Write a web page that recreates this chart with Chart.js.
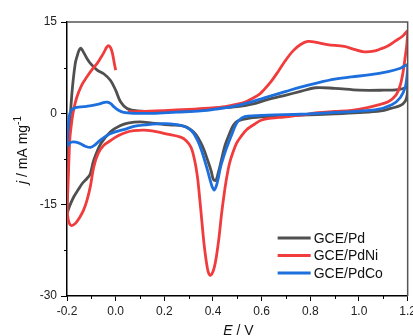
<!DOCTYPE html>
<html>
<head>
<meta charset="utf-8">
<script src="https://cdn.jsdelivr.net/npm/chart.js@4.4.0/dist/chart.umd.min.js"></script>
<style>
  html, body { margin: 0; padding: 0; overflow: hidden; background: #fff; }
</style>
</head>
<body>
<canvas id="cv" width="419" height="336"></canvas>
<script>
  // Data
  const seriesNames = ['GCE/Pd', 'GCE/PdNi', 'GCE/PdCo'];
  const xTicks = [-0.2, 0.0, 0.2, 0.4, 0.6, 0.8, 1.0, 1.2];
  const yTicks = [-30, -15, 0, 15];

  // GCE/Pd : potential (V) and current density (mA mg-1), one closed CV loop
  const pdE = [-0.2, -0.198, -0.195, -0.19, -0.184, -0.177, -0.166, -0.159, -0.15, -0.143, -0.133, -0.118, -0.104, -0.076, -0.049, -0.021, 0.0, 0.02, 0.047, 0.09, 0.2, 0.3, 0.4, 0.5, 0.56, 0.62, 0.7, 0.76, 0.82, 0.9, 1.0, 1.1, 1.16, 1.19, 1.2,
    1.198, 1.19, 1.17, 1.13, 1.09, 1.0, 0.9, 0.76, 0.62, 0.55, 0.505, 0.485, 0.468, 0.45, 0.435, 0.422, 0.412, 0.402, 0.392, 0.378, 0.362, 0.348, 0.33, 0.31, 0.28, 0.22, 0.15, 0.1, 0.05, 0.02, -0.02, -0.06, -0.09, -0.105, -0.118, -0.135, -0.155, -0.172, -0.19, -0.2];
  const pdJ = [-16.5, -12, -7, -3, 1, 4.5, 8.2, 9.3, 10.4, 10.7, 10.1, 9.0, 8.2, 7.1, 6.5, 5.4, 3.8, 1.9, 0.8, 0.38, 0.3, 0.5, 0.8, 1.1, 1.5, 2.2, 3.0, 3.6, 4.2, 4.1, 3.8, 3.8, 3.9, 4.2, 4.5,
    3.0, 2.0, 1.3, 0.8, 0.4, 0.1, -0.1, -0.3, -0.55, -0.8, -1.2, -1.9, -3.3, -5.2, -7.6, -9.7, -11.0, -10.9, -9.4, -7.7, -5.9, -4.7, -3.5, -2.7, -2.1, -1.9, -1.6, -1.4, -1.6, -2.0, -3.0, -4.9, -7.7, -10.0, -10.7, -11.4, -12.6, -13.7, -15.3, -16.5];

  // GCE/PdNi : open path, starts near 0.05 V and ends at 0.0 V after the last anodic sweep
  const pdniE = [0.05, 0.1, 0.2, 0.3, 0.38, 0.45, 0.5, 0.535, 0.56, 0.59, 0.61, 0.64, 0.67, 0.7, 0.73, 0.76, 0.79, 0.82, 0.87, 0.94, 0.98, 1.02, 1.06, 1.09, 1.12, 1.15, 1.18, 1.2,
    1.197, 1.19, 1.18, 1.168, 1.152, 1.12, 1.08, 1.03, 0.97, 0.9, 0.83, 0.76, 0.69, 0.64, 0.6, 0.57, 0.538, 0.515, 0.497, 0.482, 0.468, 0.456, 0.446, 0.435, 0.425, 0.414, 0.404, 0.395, 0.388, 0.38, 0.372, 0.363, 0.356, 0.35, 0.343, 0.336, 0.325, 0.31, 0.29, 0.267, 0.212, 0.15, 0.116, 0.075, 0.045, 0.01, -0.022, -0.05, -0.072, -0.09, -0.104, -0.118, -0.132, -0.148, -0.166, -0.184, -0.195,
    -0.199, -0.196, -0.192, -0.188, -0.18, -0.173, -0.16, -0.14, -0.118, -0.095, -0.076, -0.06, -0.047, -0.036, -0.028, -0.02, -0.013, -0.006, 0.0];
  const pdniJ = [0.3, 0.3, 0.45, 0.65, 0.85, 1.1, 1.5, 1.9, 2.4, 3.1, 3.9, 5.3, 7.0, 8.8, 10.3, 11.3, 11.8, 11.7, 11.3, 11.0, 10.5, 10.1, 10.2, 10.6, 11.1, 11.9, 12.7, 13.5,
    11.5, 9.3, 6.5, 4.4, 3.0, 1.9, 1.4, 0.9, 0.5, 0.3, 0.1, -0.3, -0.6, -0.8, -1.1, -1.8, -2.7, -3.8, -4.9, -6.4, -8.2, -10.6, -13.2, -16.6, -20.3, -23.5, -25.5, -26.4, -26.6, -26.0, -24.2, -21.4, -18.5, -15.9, -13.0, -10.4, -7.8, -5.6, -4.5, -3.9, -3.4, -2.9, -2.75, -2.85, -3.1, -3.7, -4.5, -5.3, -6.6, -8.8, -12.0, -14.3, -15.9, -17.1, -18.1, -18.4, -17.5,
    -15.5, -12.0, -7.5, -4.0, -1.2, 0.5, 2.6, 4.6, 6.0, 7.3, 8.2, 9.2, 10.1, 10.9, 11.1, 10.7, 9.8, 8.3, 7.1];

  // GCE/PdCo : one closed CV loop
  const pdcoE = [-0.2, -0.198, -0.194, -0.188, -0.18, -0.165, -0.145, -0.12, -0.1, -0.07, -0.05, -0.035, -0.02, -0.008, 0.01, 0.033, 0.075, 0.15, 0.25, 0.35, 0.42, 0.49, 0.55, 0.625, 0.7, 0.76, 0.83, 0.9, 0.97, 1.04, 1.12, 1.17, 1.2,
    1.199, 1.19, 1.17, 1.135, 1.065, 0.9, 0.76, 0.625, 0.53, 0.505, 0.49, 0.478, 0.465, 0.453, 0.44, 0.43, 0.422, 0.413, 0.405, 0.397, 0.39, 0.377, 0.357, 0.336, 0.31, 0.27, 0.2, 0.144, 0.08, 0.047, -0.02, -0.063, -0.085, -0.104, -0.125, -0.15, -0.175, -0.19, -0.2];
  const pdcoJ = [-5.5, -3.5, -1.5, 0.0, 0.6, 0.95, 1.05, 1.15, 1.25, 1.5, 1.75, 1.85, 1.6, 1.1, 0.55, 0.15, 0.0, 0.0, 0.2, 0.4, 0.75, 1.2, 1.8, 2.7, 3.6, 4.3, 5.0, 5.6, 6.0, 6.3, 6.85, 7.4, 8.0,
    6.8, 4.3, 2.6, 1.4, 0.55, 0.15, -0.15, -0.3, -0.55, -1.2, -2.2, -3.4, -4.7, -6.0, -7.6, -9.0, -10.6, -12.0, -12.6, -12.1, -11.2, -9.3, -6.6, -4.4, -2.8, -2.0, -1.7, -1.8, -2.1, -2.5, -3.3, -4.4, -5.2, -5.6, -5.4, -4.9, -4.7, -4.9, -5.5];

  const FONT = "'Liberation Sans', Arial, sans-serif";
  const toPoints = (e, j) => e.map((v, i) => ({ x: v, y: j[i] }));

  // draws a row of text runs (mixed italic / superscript) centred on 0
  function drawRuns(ctx, runs) {
    let total = 0;
    runs.forEach(r => { ctx.font = r.f; r.w = ctx.measureText(r.t).width; total += r.w; });
    let x = -total / 2;
    runs.forEach(r => { ctx.font = r.f; ctx.fillText(r.t, x, r.dy || 0); x += r.w; });
  }

  const decorations = {
    id: 'decorations',
    afterDraw(chart) {
      const { ctx, chartArea: a, scales: { x, y } } = chart;
      ctx.save();
      // top and right frame
      ctx.strokeStyle = '#555';
      ctx.lineWidth = 1.5;
      ctx.beginPath();
      ctx.moveTo(a.left, a.top);
      ctx.lineTo(a.right, a.top);
      ctx.lineTo(a.right, a.bottom);
      ctx.stroke();

      // minor ticks halfway between the majors
      ctx.strokeStyle = '#000';
      ctx.lineWidth = 1;
      ctx.beginPath();
      for (let i = 0; i < xTicks.length - 1; i++) {
        const px = Math.round(x.getPixelForValue((xTicks[i] + xTicks[i + 1]) / 2)) + 0.5;
        ctx.moveTo(px, a.bottom);
        ctx.lineTo(px, a.bottom + 3);
      }
      for (let i = 0; i < yTicks.length - 1; i++) {
        const py = Math.round(y.getPixelForValue((yTicks[i] + yTicks[i + 1]) / 2)) + 0.5;
        ctx.moveTo(a.left, py);
        ctx.lineTo(a.left - 3, py);
      }
      ctx.stroke();

      // axis titles
      ctx.fillStyle = '#111';
      ctx.textBaseline = 'alphabetic';
      ctx.textAlign = 'left';
      ctx.save();
      ctx.translate((a.left + a.right) / 2 + 1, 335);
      drawRuns(ctx, [
        { t: 'E', f: 'italic 14px ' + FONT },
        { t: ' / V', f: '14px ' + FONT }
      ]);
      ctx.restore();
      ctx.save();
      ctx.translate(27, 150);
      ctx.rotate(-Math.PI / 2);
      drawRuns(ctx, [
        { t: 'j', f: 'italic 14px ' + FONT },
        { t: ' / mA mg', f: '14px ' + FONT },
        { t: '-1', f: '10px ' + FONT, dy: -6 }
      ]);
      ctx.restore();

      // legend inside the plot, lower right
      chart.data.datasets.forEach((ds, i) => {
        const cy = a.bottom - 58 + i * 17.5;
        ctx.strokeStyle = ds.borderColor;
        ctx.lineWidth = 3;
        ctx.beginPath();
        ctx.moveTo(a.right - 130, cy);
        ctx.lineTo(a.right - 97, cy);
        ctx.stroke();
        ctx.fillStyle = '#111';
        ctx.font = '14px ' + FONT;
        ctx.textBaseline = 'middle';
        ctx.fillText(ds.label, a.right - 94, cy + 1);
      });
      ctx.restore();
    }
  };

  const ctx = document.getElementById('cv').getContext('2d');
  const cvChart = new Chart(ctx, {
    type: 'scatter',
    data: {
      datasets: [
        { label: seriesNames[0], data: toPoints(pdE, pdJ), borderColor: '#505050', order: 3 },
        { label: seriesNames[1], data: toPoints(pdniE, pdniJ), borderColor: '#f03c3c', order: 2 },
        { label: seriesNames[2], data: toPoints(pdcoE, pdcoJ), borderColor: '#1c6fdc', order: 1 }
      ]
    },
    options: {
      responsive: false,
      animation: false,
      showLine: true,
      layout: { padding: { top: 22, left: 0, right: 0, bottom: 0 } },
      elements: {
        point: { radius: 0, hoverRadius: 0 },
        line: { borderWidth: 2.8, tension: 0.35, fill: false }
      },
      plugins: { legend: { display: false }, tooltip: { enabled: false } },
      scales: {
        x: {
          type: 'linear',
          min: -0.2,
          max: 1.2,
          afterBuildTicks: s => { s.ticks = xTicks.map(v => ({ value: v })); },
          afterFit: s => { s.height = 40; },
          ticks: {
            padding: 3,
            color: '#222',
            font: { family: FONT, size: 12 },
            callback: v => v.toFixed(1)
          },
          grid: { drawOnChartArea: false, tickLength: 5, tickColor: '#000', tickWidth: 1 },
          border: { color: '#000', width: 1.5 }
        },
        y: {
          type: 'linear',
          min: -30,
          max: 15,
          afterBuildTicks: s => { s.ticks = yTicks.map(v => ({ value: v })); },
          afterFit: s => { s.width = 67; },
          ticks: {
            padding: 4,
            color: '#222',
            font: { family: FONT, size: 12 },
            callback: v => String(v)
          },
          grid: { drawOnChartArea: false, tickLength: 6, tickColor: '#000', tickWidth: 1 },
          border: { color: '#000', width: 1.5 }
        }
      }
    },
    plugins: [decorations]
  });
</script>
</body>
</html>
